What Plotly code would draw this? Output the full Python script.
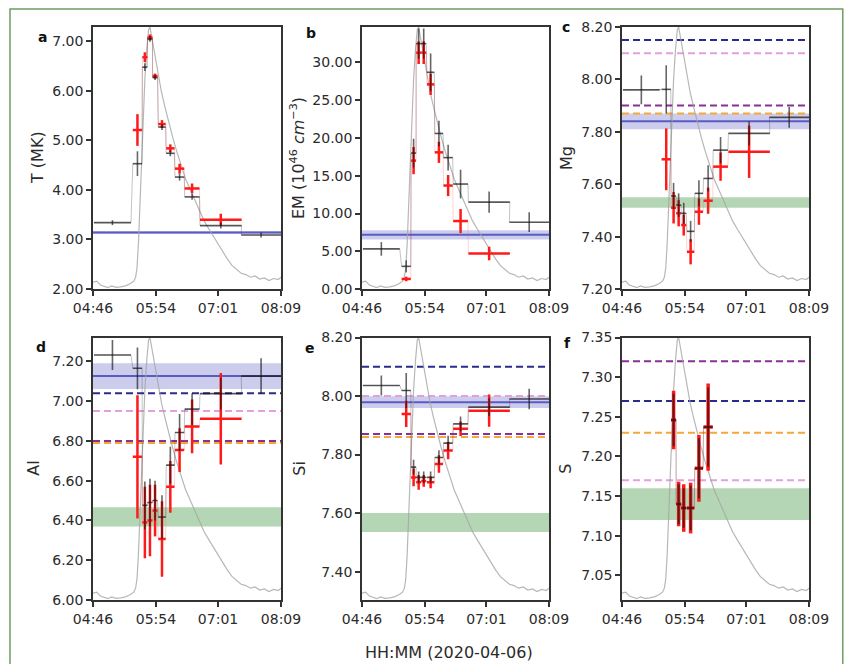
import plotly.graph_objects as go

# page is 852x672; the browser body keeps an 8 px margin, so the figure fills the rest
PAGE_W, PAGE_H = 852, 672
OFF = 8
W, H = PAGE_W - 2 * OFF, PAGE_H - 2 * OFF

# ---------------- data ----------------
# time axis: minutes after 04:46 UT on 2020-04-06
tick_minutes = [0, 68, 135, 203]
tick_labels = ["04:46", "05:54", "07:01", "08:09"]

# time bins (centre, half width) in minutes after 04:46
bin_center = [21, 48, 56, 61.5, 67, 74.5, 83.5, 93.5, 107, 138, 181.5]
bin_half = [20, 5, 2.7, 2.7, 2.7, 4, 4.5, 5, 8, 22.5, 21.5]

# normalised X-ray light curve (gray)
lc_time = [0, 4, 8, 12, 16, 20, 25, 30, 35, 40,
           44, 46, 47.5, 49, 50.5, 52, 54, 56, 58, 60,
           61.5, 63, 65, 68, 71, 74, 78, 82, 86, 90,
           95, 100, 105, 110, 115, 120, 125, 130, 135, 140,
           145, 150, 155, 160, 165, 170, 175, 180, 185, 190,
           195, 200, 203]
lc_norm = [0.026, 0.03, 0.015, 0.01, 0.005, 0.012, 0.006, 0.008, 0.012, 0.02,
           0.03, 0.045, 0.08, 0.17, 0.31, 0.50, 0.65, 0.80, 0.91, 0.99,
           1.0, 0.97, 0.93, 0.87, 0.81, 0.75, 0.69, 0.63, 0.58, 0.53,
           0.47, 0.42, 0.38, 0.34, 0.30, 0.26, 0.23, 0.20, 0.17, 0.14,
           0.115, 0.09, 0.075, 0.06, 0.055, 0.045, 0.05, 0.038, 0.042, 0.032,
           0.04, 0.036, 0.045]

# bins used by the red series (B..J) and panel f (C..H)
red_idx = [1, 2, 3, 4, 5, 6, 7, 8, 9]
s_idx = [2, 3, 4, 5, 6, 7]

# a: temperature (MK)
T_black = [3.34, 4.53, 6.48, 7.05, 6.27, 5.27, 4.74, 4.26, 3.86, 3.28, 3.09]
T_black_err = [0.05, 0.25, 0.08, 0.06, 0.05, 0.06, 0.06, 0.07, 0.06, 0.06, 0.05]
T_red = [5.21, 6.68, 7.08, 6.30, 5.33, 4.84, 4.43, 4.03, 3.40]
T_red_err = [0.32, 0.10, 0.06, 0.05, 0.08, 0.08, 0.10, 0.10, 0.12]

# b: emission measure (1e46 cm^-3)
EM_black = [5.31, 3.0, 18.0, 32.5, 32.5, 28.7, 20.6, 17.4, 13.9, 11.5, 8.85]
EM_black_err = [0.9, 0.8, 1.9, 2.0, 2.0, 2.5, 1.7, 1.7, 1.9, 1.4, 1.3]
EM_red = [1.33, 17.0, 31.3, 31.3, 27.1, 18.1, 13.7, 9.0, 4.7]
EM_red_err = [0.3, 1.8, 1.5, 1.5, 1.4, 1.4, 1.4, 1.6, 0.9]

# c: Mg
Mg_black = [7.96, 7.962, 7.555, 7.52, 7.489, 7.42, 7.565, 7.622, 7.73, 7.794, 7.855]
Mg_black_err = [0.055, 0.092, 0.05, 0.045, 0.04, 0.04, 0.05, 0.05, 0.05, 0.045, 0.04]
Mg_red = [7.695, 7.51, 7.489, 7.444, 7.342, 7.495, 7.537, 7.667, 7.724]
Mg_red_err = [0.118, 0.06, 0.05, 0.04, 0.048, 0.05, 0.05, 0.054, 0.1]

# d: Al
Al_black = [7.232, 7.165, 6.476, 6.49, 6.50, 6.417, 6.678, 6.842, 6.96, 7.038, 7.126]
Al_black_err = [0.076, 0.105, 0.12, 0.12, 0.10, 0.11, 0.093, 0.093, 0.08, 0.08, 0.09]
Al_red = [6.72, 6.39, 6.40, 6.45, 6.307, 6.569, 6.754, 6.873, 6.911]
Al_red_err = [0.31, 0.18, 0.18, 0.13, 0.19, 0.13, 0.11, 0.135, 0.23]

# e: Si
Si_black = [8.036, 8.019, 7.757, 7.722, 7.722, 7.722, 7.79, 7.839, 7.905, 7.962, 7.99]
Si_black_err = [0.034, 0.06, 0.025, 0.02, 0.02, 0.02, 0.025, 0.025, 0.025, 0.03, 0.035]
Si_red = [7.939, 7.722, 7.705, 7.71, 7.705, 7.768, 7.814, 7.888, 7.95]
Si_red_err = [0.045, 0.03, 0.025, 0.02, 0.02, 0.03, 0.03, 0.025, 0.055]

# f: S
S_black = [7.246, 7.14, 7.135, 7.135, 7.185, 7.237]
S_black_err = [0.033, 0.025, 0.025, 0.028, 0.038, 0.05]
S_red = [7.246, 7.14, 7.135, 7.135, 7.185, 7.237]
S_red_err = [0.037, 0.028, 0.03, 0.032, 0.042, 0.055]

# reference levels
blue_level = {"a": (3.14, 0.03), "b": (7.17, 0.6), "c": (7.84, 0.03),
              "d": (7.126, 0.065), "e": (7.979, 0.02)}
green_band = {"c": (7.51, 7.55), "d": (6.37, 6.467), "e": (7.535, 7.60), "f": (7.12, 7.16)}
navy_dash = {"c": 8.15, "d": 7.04, "e": 8.10, "f": 7.27}
pink_dash = {"c": 8.10, "d": 6.95, "e": 8.00, "f": 7.17}
purple_dash = {"c": 7.90, "d": 6.80, "e": 7.87, "f": 7.32}
orange_dash = {"c": 7.87, "d": 6.79, "e": 7.86, "f": 7.23}

# ---------------- layout helpers ----------------
def px_x(p):
    return (p - OFF) / W

def px_y(p):
    return 1 - (p - OFF) / H

col_dom = [(93, 281), (362, 549), (622, 809)]
row_dom = [(27, 289), (337.5, 600)]

panels = [
    dict(key="a", title="T (MK)", rng=[2.0, 7.29], ticks=[2, 3, 4, 5, 6, 7], fmt=".2f",
         black=T_black, berr=T_black_err, red=T_red, rerr=T_red_err, ridx=red_idx, bidx=list(range(11))),
    dict(key="b", title="EM (10<sup>46</sup> <i>cm</i><sup>−3</sup>)", rng=[0, 34.7],
         ticks=[0, 5, 10, 15, 20, 25, 30], fmt=".2f",
         black=EM_black, berr=EM_black_err, red=EM_red, rerr=EM_red_err, ridx=red_idx, bidx=list(range(11))),
    dict(key="c", title="Mg", rng=[7.2, 8.2], ticks=[7.2, 7.4, 7.6, 7.8, 8.0, 8.2], fmt=".2f",
         black=Mg_black, berr=Mg_black_err, red=Mg_red, rerr=Mg_red_err, ridx=red_idx, bidx=list(range(11))),
    dict(key="d", title="Al", rng=[6.0, 7.32], ticks=[6.0, 6.2, 6.4, 6.6, 6.8, 7.0, 7.2], fmt=".2f",
         black=Al_black, berr=Al_black_err, red=Al_red, rerr=Al_red_err, ridx=red_idx, bidx=list(range(11))),
    dict(key="e", title="Si", rng=[7.303, 8.2], ticks=[7.4, 7.6, 7.8, 8.0, 8.2], fmt=".2f",
         black=Si_black, berr=Si_black_err, red=Si_red, rerr=Si_red_err, ridx=red_idx, bidx=list(range(11))),
    dict(key="f", title="S", rng=[7.019, 7.35], ticks=[7.05, 7.10, 7.15, 7.20, 7.25, 7.30, 7.35], fmt=".2f",
         black=S_black, berr=S_black_err, red=S_red, rerr=S_red_err, ridx=s_idx, bidx=s_idx),
]

title_x = [37, 297, 566, 34, 300, 566]
letter_pos = [(42, 37), (311, 33), (566, 27), (41, 347), (310, 348), (567, 343)]

FONT = "DejaVu Sans"
TXT = "#2b2b2b"
AX = "#333333"

fig = go.Figure()
layout = dict(template="none", width=W, height=H, margin=dict(l=0, r=0, t=0, b=0, pad=0),
              paper_bgcolor="white", plot_bgcolor="white", showlegend=False,
              font=dict(family=FONT, size=14, color=TXT))
shapes = []
annotations = []

for i, p in enumerate(panels):
    n = i + 1
    r, c = divmod(i, 3)
    xs = "" if n == 1 else str(n)
    ov = str(n + 6)
    xd = [px_x(col_dom[c][0]), px_x(col_dom[c][1])]
    yd = [px_y(row_dom[r][1]), px_y(row_dom[r][0])]

    layout["xaxis" + xs] = dict(domain=xd, anchor="y" + xs, range=[0, 203], automargin=False,
                                tickvals=tick_minutes, ticktext=tick_labels,
                                showline=True, mirror=True, linecolor=AX, linewidth=1.5,
                                ticks="outside", ticklen=5, tickcolor=AX, tickwidth=1.5,
                                showgrid=False, zeroline=False,
                                tickfont=dict(family=FONT, size=14, color=TXT))
    layout["yaxis" + xs] = dict(domain=yd, anchor="x" + xs, range=[0, 1.0], visible=False,
                                automargin=False, showgrid=False, zeroline=False)
    layout["yaxis" + ov] = dict(overlaying="y" + xs, anchor="x" + xs, side="left",
                                range=p["rng"], tickvals=p["ticks"], tickformat=p["fmt"],
                                automargin=False,
                                showline=True, mirror=True, linecolor=AX, linewidth=1.5,
                                ticks="outside", ticklen=5, tickcolor=AX, tickwidth=1.5,
                                showgrid=False, zeroline=False,
                                tickfont=dict(family=FONT, size=14, color=TXT))

    # light curve on the hidden base axis
    fig.add_trace(go.Scatter(x=lc_time, y=lc_norm, mode="lines", xaxis="x" + xs, yaxis="y" + xs,
                             line=dict(color="rgba(165,165,165,0.8)", width=1.2),
                             hoverinfo="skip"))

    k = p["key"]
    yref = "y" + ov
    xdom = "x" + xs + " domain"
    if k in green_band:
        lo, hi = green_band[k]
        shapes.append(dict(type="rect", xref=xdom, yref=yref, x0=0, x1=1, y0=lo, y1=hi,
                           fillcolor="rgba(120,180,120,0.55)", line=dict(width=0), layer="below"))
    if k in blue_level:
        v, e = blue_level[k]
        shapes.append(dict(type="rect", xref=xdom, yref=yref, x0=0, x1=1, y0=v - e, y1=v + e,
                           fillcolor="rgba(110,110,200,0.35)", line=dict(width=0), layer="below"))
        shapes.append(dict(type="line", xref=xdom, yref=yref, x0=0, x1=1, y0=v, y1=v,
                           line=dict(color="rgba(70,70,190,0.85)", width=2), layer="below"))
    for dct, col in [(navy_dash, "#2b2b8f"), (pink_dash, "#e3a0dc"),
                     (purple_dash, "#8b2f98"), (orange_dash, "#f5a83a")]:
        if k in dct:
            v = dct[k]
            shapes.append(dict(type="line", xref=xdom, yref=yref, x0=0, x1=1, y0=v, y1=v,
                               line=dict(color=col, width=2, dash="7px,4px"), layer="below"))

    # faint step connectors
    for idx, vals, col in [(p["ridx"], p["red"], "rgba(255,80,80,0.25)"),
                           (p["bidx"], p["black"], "rgba(60,60,60,0.3)")]:
        sx, sy = [], []
        for j, v in zip(idx, vals):
            sx += [bin_center[j] - bin_half[j], bin_center[j] + bin_half[j]]
            sy += [v, v]
        fig.add_trace(go.Scatter(x=sx, y=sy, mode="lines", xaxis="x" + xs, yaxis=yref,
                                 line=dict(color=col, width=1), hoverinfo="skip"))

    wide = k == "f"
    # red series
    fig.add_trace(go.Scatter(
        x=[bin_center[j] for j in p["ridx"]], y=p["red"], mode="markers",
        xaxis="x" + xs, yaxis=yref, marker=dict(size=1, color="rgba(0,0,0,0)"),
        error_y=dict(type="data", array=p["rerr"], color="#ff1a1a",
                     thickness=3.5 if wide else 2.5, width=0),
        error_x=dict(type="data", array=[bin_half[j] for j in p["ridx"]], color="#ff1a1a",
                     thickness=3.5 if wide else 2.5, width=0),
        hoverinfo="skip"))
    # black series
    fig.add_trace(go.Scatter(
        x=[bin_center[j] for j in p["bidx"]], y=p["black"], mode="markers",
        xaxis="x" + xs, yaxis=yref, marker=dict(size=1, color="rgba(0,0,0,0)"),
        error_y=dict(type="data", array=p["berr"], color="rgba(20,20,20,0.65)",
                     thickness=2 if wide else 1.6, width=0),
        error_x=dict(type="data", array=[bin_half[j] for j in p["bidx"]], color="rgba(20,20,20,0.65)",
                     thickness=2 if wide else 1.6, width=0),
        hoverinfo="skip"))

    # y title
    annotations.append(dict(text=p["title"], xref="paper", yref="paper",
                            x=px_x(title_x[i]), y=(yd[0] + yd[1]) / 2, textangle=-90,
                            showarrow=False, xanchor="center", yanchor="middle",
                            font=dict(family=FONT, size=16, color=TXT)))
    lx, ly = letter_pos[i]
    annotations.append(dict(text="<b>" + k + "</b>", xref="paper", yref="paper",
                            x=px_x(lx), y=px_y(ly), showarrow=False,
                            xanchor="center", yanchor="middle",
                            font=dict(family=FONT, size=14, color="#111111")))

annotations.append(dict(text="HH:MM (2020-04-06)", xref="paper", yref="paper",
                        x=px_x(449), y=px_y(652), showarrow=False,
                        xanchor="center", yanchor="middle",
                        font=dict(family=FONT, size=16, color=TXT)))

# green outer frame (right and top edges kept just inside the figure)
shapes.append(dict(type="rect", xref="paper", yref="paper",
                   x0=px_x(10), x1=(W - 1.2) / W, y0=-0.2, y1=1 - 1.0 / H,
                   line=dict(color="#6f9d60", width=1.5), fillcolor="rgba(0,0,0,0)", layer="above"))

layout["shapes"] = shapes
layout["annotations"] = annotations
fig.update_layout(**layout)
fig.write_html("out.html")
